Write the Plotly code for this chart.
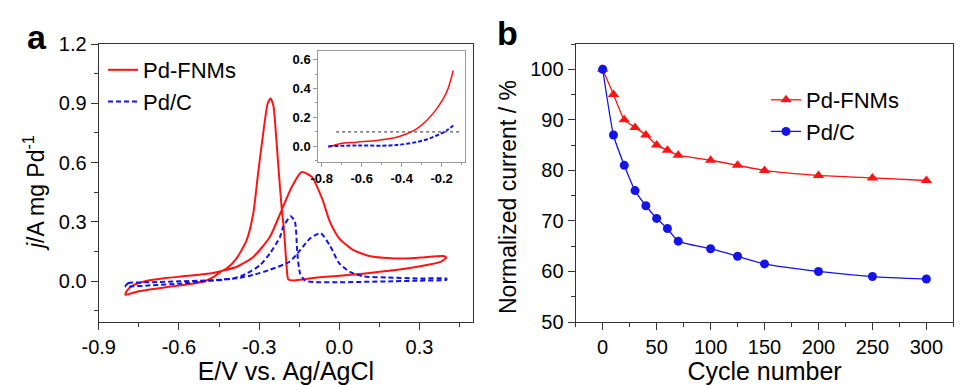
import plotly.graph_objects as go

# ---------------- Panel a : cyclic voltammograms ----------------
# Pd-FNMs: forward (anodic) scan then reverse scan
fnm_E = [-0.800, -0.795, -0.770, -0.710, -0.650, -0.585, -0.485, -0.441, -0.385, -0.322,
         -0.260, -0.216, -0.178, -0.141, -0.103, -0.065, -0.035, 0.000, 0.053, 0.115,
         0.215, 0.303, 0.390, 0.400,
         0.378, 0.303, 0.178, 0.053, -0.073, -0.135, -0.172, -0.191, -0.197, -0.207,
         -0.216, -0.229, -0.241, -0.247, -0.257, -0.268, -0.285, -0.304, -0.322, -0.347,
         -0.385, -0.422, -0.447, -0.470, -0.500, -0.550, -0.650, -0.750, -0.800]
fnm_j = [-0.068, -0.048, -0.020, 0.005, 0.016, 0.025, 0.039, 0.052, 0.072, 0.123,
         0.224, 0.359, 0.477, 0.553, 0.528, 0.420, 0.300, 0.216, 0.157, 0.127,
         0.115, 0.120, 0.128, 0.120,
         0.098, 0.076, 0.052, 0.034, 0.020, 0.010, 0.004, 0.010, 0.072, 0.258,
         0.376, 0.596, 0.815, 0.890, 0.924, 0.899, 0.747, 0.545, 0.343, 0.207,
         0.115, 0.064, 0.045, 0.022, 0.003, -0.012, -0.030, -0.050, -0.068]

# Pd/C: forward scan then reverse scan
pdc_E = [-0.800, -0.790, -0.700, -0.600, -0.500, -0.450, -0.385, -0.322, -0.260, -0.185,
         -0.147, -0.110, -0.070, -0.035, 0.000, 0.040, 0.090, 0.178, 0.303, 0.400,
         0.400, 0.300, 0.200, 0.000, -0.097, -0.129, -0.147, -0.157, -0.166, -0.182,
         -0.210, -0.222, -0.260, -0.297, -0.347, -0.397, -0.500, -0.600, -0.700, -0.800]
pdc_j = [-0.025, -0.010, -0.005, 0.000, 0.004, 0.008, 0.015, 0.032, 0.058, 0.100,
         0.157, 0.216, 0.243, 0.180, 0.090, 0.047, 0.025, 0.019, 0.014, 0.014,
         0.008, 0.003, 0.000, -0.005, -0.004, 0.004, 0.040, 0.140, 0.300, 0.329,
         0.275, 0.224, 0.140, 0.081, 0.039, 0.014, 0.000, -0.012, -0.020, -0.025]

# Inset: onset region
inset_fnm_E = [-0.767, -0.709, -0.625, -0.525, -0.425, -0.375, -0.325, -0.275, -0.225, -0.175, -0.142]
inset_fnm_j = [-0.007, 0.017, 0.028, 0.040, 0.062, 0.086, 0.120, 0.178, 0.259, 0.375, 0.525]
inset_pdc_E = [-0.767, -0.625, -0.458, -0.375, -0.292, -0.225, -0.175, -0.142]
inset_pdc_j = [0.000, 0.005, 0.005, 0.017, 0.040, 0.074, 0.109, 0.144]
inset_ref_E = [-0.728, -0.108]
inset_ref_j = [0.10, 0.10]

a_xticks = [-0.9, -0.6, -0.3, 0.0, 0.3]
a_xticktext = ["-0.9", "-0.6", "-0.3", "0.0", "0.3"]
a_yticks = [0.0, 0.3, 0.6, 0.9, 1.2]
a_yticktext = ["0.0", "0.3", "0.6", "0.9", "1.2"]
in_xticks = [-0.8, -0.6, -0.4, -0.2]
in_xticktext = ["-0.8", "-0.6", "-0.4", "-0.2"]
in_yticks = [0.0, 0.2, 0.4, 0.6]
in_yticktext = ["0.0", "0.2", "0.4", "0.6"]

# ---------------- Panel b : stability ----------------
cycles = [0, 10, 20, 30, 40, 50, 60, 70, 100, 125, 150, 200, 250, 300]
fnm_norm = [100, 95, 90, 88.5, 87, 85, 84, 83, 82, 81, 80, 79, 78.5, 78]
pdc_norm = [100, 87, 81, 76, 73, 70.5, 68.5, 66, 64.5, 63, 61.5, 60, 59, 58.5]
b_xticks = [0, 50, 100, 150, 200, 250, 300]
b_yticks = [50, 60, 70, 80, 90, 100]

RED = "#ff1414"
BLUE = "#1414e6"
FONT = "Liberation Sans, Arial, sans-serif"
AX = "#333333"

fig = go.Figure()

fig.add_trace(go.Scatter(x=fnm_E, y=fnm_j, mode="lines", name="Pd-FNMs",
                         line=dict(color=RED, width=2, shape="spline", smoothing=0.6),
                         xaxis="x", yaxis="y", legend="legend"))
fig.add_trace(go.Scatter(x=pdc_E, y=pdc_j, mode="lines", name="Pd/C",
                         line=dict(color=BLUE, width=2, dash="5px,3px", shape="spline", smoothing=0.6),
                         xaxis="x", yaxis="y", legend="legend"))

fig.add_trace(go.Scatter(x=inset_ref_E, y=inset_ref_j, mode="lines", showlegend=False,
                         line=dict(color="#555555", width=1.2, dash="dot"),
                         xaxis="x3", yaxis="y3"))
fig.add_trace(go.Scatter(x=inset_fnm_E, y=inset_fnm_j, mode="lines", showlegend=False,
                         line=dict(color=RED, width=1.5, shape="spline"),
                         xaxis="x3", yaxis="y3"))
fig.add_trace(go.Scatter(x=inset_pdc_E, y=inset_pdc_j, mode="lines", showlegend=False,
                         line=dict(color=BLUE, width=2, dash="4px,2px", shape="spline"),
                         xaxis="x3", yaxis="y3"))

fig.add_trace(go.Scatter(x=cycles, y=fnm_norm, mode="lines+markers", name="Pd-FNMs",
                         line=dict(color=RED, width=1.3, shape="spline", smoothing=0.5),
                         marker=dict(symbol="triangle-up", size=10, color=RED),
                         xaxis="x2", yaxis="y2", legend="legend2"))
fig.add_trace(go.Scatter(x=cycles, y=pdc_norm, mode="lines+markers", name="Pd/C",
                         line=dict(color=BLUE, width=1.3, shape="spline", smoothing=0.5),
                         marker=dict(symbol="circle", size=9, color=BLUE),
                         xaxis="x2", yaxis="y2", legend="legend2"))

tickfont = dict(family=FONT, size=20, color="black")
xtitlefont = dict(family=FONT, size=25, color="black")
ytitlefont = dict(family=FONT, size=23, color="black")

common = dict(showline=True, linecolor=AX, linewidth=1.3, mirror=True,
              ticks="outside", ticklen=7, tickwidth=1.3, tickcolor=AX,
              showgrid=False, zeroline=False, tickfont=tickfont, automargin=False)

fig.update_layout(
    width=972, height=385,
    margin=dict(l=0, r=0, t=0, b=0, autoexpand=False),
    paper_bgcolor="white", plot_bgcolor="white",
    font=dict(family=FONT, color="black"),
    xaxis=dict(domain=[0.1016, 0.4866], range=[-0.9, 0.5], tickvals=a_xticks, ticktext=a_xticktext,
               minor=dict(ticks="outside", ticklen=4, tickwidth=1.3, tickcolor=AX, dtick=0.15, tick0=-0.9),
               title=dict(text="E/V vs. Ag/AgCl", font=xtitlefont, standoff=0), anchor="y", **common),
    yaxis=dict(domain=[0.1636, 0.8857], range=[-0.206, 1.2], tickvals=a_yticks, ticktext=a_yticktext,
               minor=dict(ticks="outside", ticklen=4, tickwidth=1.3, tickcolor=AX, dtick=0.15, tick0=0),
               anchor="x", **common),
    xaxis2=dict(domain=[0.5923, 0.9808], range=[-25, 325], tickvals=b_xticks,
                minor=dict(ticks="outside", ticklen=4, tickwidth=1.3, tickcolor=AX, dtick=25, tick0=0),
                title=dict(text="Cycle number", font=xtitlefont, standoff=0), anchor="y2", **common),
    yaxis2=dict(domain=[0.1636, 0.8857], range=[50, 105], tickvals=b_yticks,
                minor=dict(ticks="outside", ticklen=4, tickwidth=1.3, tickcolor=AX, dtick=5, tick0=50),
                anchor="x2", **common),
    xaxis3=dict(domain=[0.3275, 0.4784], range=[-0.817, -0.083], tickvals=in_xticks, ticktext=in_xticktext,
                showline=True, linecolor="#999999", linewidth=1.2, mirror=True,
                ticks="outside", ticklen=4, tickwidth=1, tickcolor="#999999",
                minor=dict(ticks="outside", ticklen=2, tickwidth=1, tickcolor="#999999", dtick=0.1, tick0=-0.8),
                showgrid=False, zeroline=False, automargin=False,
                tickfont=dict(family=FONT, size=13, color="black", weight="bold"), anchor="y3"),
    yaxis3=dict(domain=[0.579, 0.8675], range=[-0.11, 0.66], tickvals=in_yticks, ticktext=in_yticktext,
                showline=True, linecolor="#999999", linewidth=1.2, mirror=True,
                ticks="outside", ticklen=4, tickwidth=1, tickcolor="#999999",
                minor=dict(ticks="outside", ticklen=2, tickwidth=1, tickcolor="#999999", dtick=0.1, tick0=0),
                showgrid=False, zeroline=False, automargin=False,
                tickfont=dict(family=FONT, size=13, color="black", weight="bold"), anchor="x3"),
    legend=dict(x=103/972, y=(385-49)/385, xanchor="left", yanchor="top",
                bgcolor="rgba(0,0,0,0)", font=dict(family=FONT, size=22, color="black"),
                tracegroupgap=0),
    legend2=dict(x=766/972, y=(385-79)/385, xanchor="left", yanchor="top",
                 bgcolor="rgba(0,0,0,0)", font=dict(family=FONT, size=22, color="black"),
                 tracegroupgap=0),
    annotations=[
        dict(text="<b>a</b>", x=37/972, y=(385-37)/385, xref="paper", yref="paper",
             xanchor="center", yanchor="middle", showarrow=False,
             font=dict(family=FONT, size=34, color="black")),
        dict(text="<b>b</b>", x=507/972, y=(385-33)/385, xref="paper", yref="paper",
             xanchor="center", yanchor="middle", showarrow=False,
             font=dict(family=FONT, size=34, color="black")),
        dict(text="<i>j</i>/A mg Pd<sup>-1</sup>", x=34/972, y=(385-193)/385,
             xref="paper", yref="paper", xanchor="center", yanchor="middle",
             textangle=-90, showarrow=False, font=ytitlefont),
        dict(text="Normalized current / %", x=508/972, y=(385-197)/385,
             xref="paper", yref="paper", xanchor="center", yanchor="middle",
             textangle=-90, showarrow=False, font=ytitlefont),
    ],
)

fig.write_html("out.html", config={"displayModeBar": False},
               post_script="document.body.style.margin='0';document.body.style.overflow='hidden';")
